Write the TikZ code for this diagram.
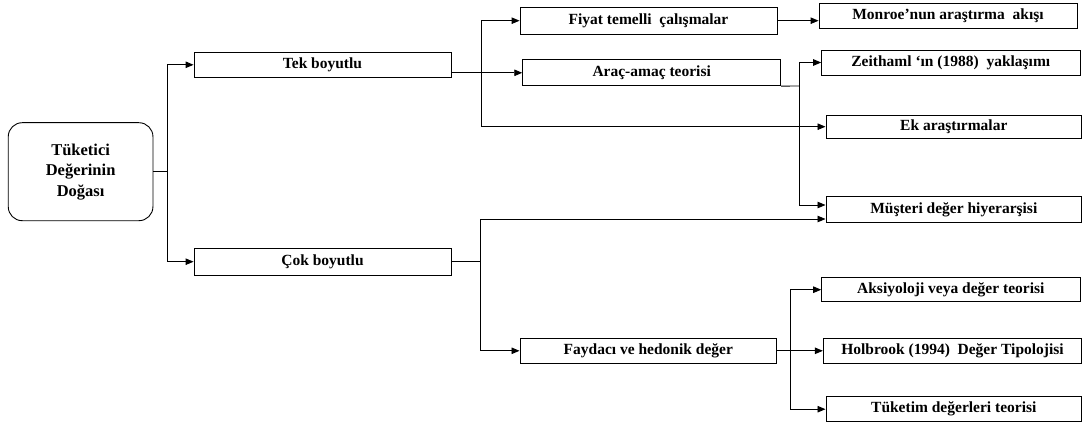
\documentclass[tikz,border=0pt]{standalone}
\usepackage{fontspec}
\setmainfont{Liberation Serif}
\usetikzlibrary{arrows.meta}

\begin{document}
\begin{tikzpicture}
    [x=1pt, y=-1pt,
    line width=0.9pt,
    >={Triangle[length=8pt,width=6.5pt]},
    kutu/.style = {draw,
                  inner sep=0pt,
                  minimum width=257pt,
                  minimum height=25pt,
                  font=\fontsize{15.5}{17}\selectfont\bfseries}]
    \useasboundingbox (0,0) rectangle (1082,425);
    % Kok kutu
    \node[kutu, rounded corners=14pt, minimum width=144.7pt, minimum height=98pt,
          align=center, font=\fontsize{16.5}{20.5}\selectfont\bfseries] (kok) at (80.6,171.7)
          {T\"uketici\\De\u{g}erinin\\Do\u{g}as\i};
    % Ikinci seviye
    \node[kutu] (tek) at (322.5,64.8) {Tek boyutlu};
    \node[kutu, minimum height=26.7pt] (cok) at (322.5,261.7) {Çok boyutlu};
    % Ucuncu seviye
    \node[kutu, minimum height=26.7pt] (fiyat) at (648.5,20.7) {Fiyat temelli~ çalışmalar};
    \node[kutu, minimum width=258pt, minimum height=25.7pt] (arac) at (651.7,72.8) {Araç-amaç teorisi};
    \node[kutu, minimum width=256.7pt] (fayda) at (648.3,350.8) {Faydacı ve hedonik değer};
    % Son seviye
    \node[kutu, minimum width=258pt] (monroe) at (948,15.8) {Monroe’nun araştırma~ akışı};
    \node[kutu, minimum width=258.3pt] (zeit) at (950.8,62.5) {Zeithaml ‘ın (1988)~ yaklaşımı};
    \node[kutu, minimum width=255.7pt, minimum height=23.3pt] (ek) at (953.8,126.7) {Ek araştırmalar};
    \node[kutu, minimum width=255.7pt, minimum height=26pt] (must) at (953.8,209.7) {Müşteri değer hiyerarşisi};
    \node[kutu, minimum width=258.3pt, minimum height=24pt] (aksi) at (950.8,289.7) {Aksiyoloji veya değer teorisi};
    \node[kutu, minimum width=258.4pt] (holb) at (952.5,350.8) {Holbrook (1994)~ Değer Tipolojisi};
    \node[kutu, minimum width=255.7pt] (tuket) at (953.8,409.2) {Tüketim değerleri teorisi};
    % Baglanti noktalari
    \coordinate (j1) at (167,171.7);
    \coordinate (j2) at (481,72.8);
    \coordinate (j3) at (799,86);
    \coordinate (j4) at (480,261.7);
    \coordinate (j5) at (790,350.8);
    % Oklar
    \draw (kok.east) -- (j1);
    \draw[->] (j1) |- (tek.west);
    \draw[->] (j1) |- (cok.west);
    \draw[->] (tek.east |- arac.west) -- (arac.west);
    \draw[->] (j2) |- (fiyat.west);
    \draw[->] (j2) |- (ek.west);
    \draw[->] (fiyat.east) -- (fiyat.east -| monroe.west);
    \draw (arac.south east) -- (j3);
    \draw[->] (j3) |- (zeit.west);
    \draw[->] (j3) |- ([yshift=4.7pt]must.west);
    \draw (cok.east) -- (j4);
    \draw[->] (j4) |- ([yshift=-9.3pt]must.west);
    \draw[->] (j4) |- (fayda.west);
    \draw[->] (fayda.east) -- (holb.west);
    \draw[->] (j5) |- (aksi.west);
    \draw[->] (j5) |- (tuket.west);
\end{tikzpicture}
\end{document}
